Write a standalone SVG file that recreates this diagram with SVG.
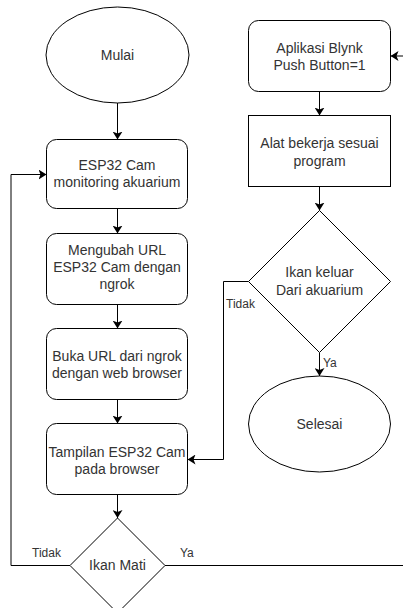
<svg xmlns="http://www.w3.org/2000/svg" width="403" height="608" viewBox="0 0 403 608">
<style>
.s{fill:#fff;stroke:#000;stroke-width:1}
.t{font-family:"Liberation Sans",Arial,sans-serif;font-size:14px;fill:#333;text-anchor:middle}
.l{font-family:"Liberation Sans",Arial,sans-serif;font-size:12px;fill:#333}
.c{fill:none;stroke:#000;stroke-width:1;marker-end:url(#a)}
</style>
<defs>
<marker id="a" viewBox="0 0 8 10" markerWidth="8" markerHeight="10" refX="8" refY="5" orient="auto" markerUnits="userSpaceOnUse">
<path d="M0,0 L8,5 L0,10 L2,5 Z" fill="#000"/>
</marker>
</defs>
<rect width="403" height="608" fill="#fff"/>
<g id="connectors">
<path class="c" d="M117.5,103 V139.5"/>
<path class="c" d="M117.5,208.5 V233.5"/>
<path class="c" d="M117.5,304.5 V328.5"/>
<path class="c" d="M117.5,399.5 V423.5"/>
<path class="c" d="M117.5,494.5 V518"/>
<path class="c" d="M70,565.5 H11 V174.5 H46.5"/>
<path class="c" d="M165,565.5 H404 V56 H390.5"/>
<path class="c" d="M319.5,91.5 V115.5"/>
<path class="c" d="M319.5,186.5 V210.5"/>
<path class="c" d="M248.5,281.5 H223.5 V459.5 H187.5"/>
<path class="c" d="M319.5,352.5 V376"/>
<text class="l" x="32" y="557">Tidak</text>
<text class="l" x="180" y="557">Ya</text>
<text class="l" x="226" y="308">Tidak</text>
<text class="l" x="323" y="367">Ya</text>
</g>
<g id="mulai">
<ellipse class="s" cx="117.5" cy="55" rx="71.5" ry="48"/>
<text class="t" x="117.5" y="60">Mulai</text>
</g>
<g id="esp32cam">
<rect class="s" x="46.5" y="139.5" width="141" height="69" rx="10"/>
<text class="t" x="117" y="170">ESP32 Cam</text>
<text class="t" x="117" y="187">monitoring akuarium</text>
</g>
<g id="mengubah">
<rect class="s" x="46.5" y="233.5" width="141" height="71" rx="10"/>
<text class="t" x="117" y="255">Mengubah URL</text>
<text class="t" x="117" y="272">ESP32 Cam dengan</text>
<text class="t" x="117" y="289">ngrok</text>
</g>
<g id="buka">
<rect class="s" x="46.5" y="328.5" width="141" height="71" rx="10"/>
<text class="t" x="117" y="361">Buka URL dari ngrok</text>
<text class="t" x="117" y="378">dengan web browser</text>
</g>
<g id="tampilan">
<rect class="s" x="46.5" y="423.5" width="141" height="71" rx="10"/>
<text class="t" x="117" y="457">Tampilan ESP32 Cam</text>
<text class="t" x="117" y="474">pada browser</text>
</g>
<g id="ikanmati">
<polygon class="s" points="117.5,518 165,565.5 117.5,613 70,565.5"/>
<text class="t" x="117.5" y="570">Ikan Mati</text>
</g>
<g id="blynk">
<rect class="s" x="248.5" y="20.5" width="142" height="71" rx="10"/>
<text class="t" x="319.5" y="53">Aplikasi Blynk</text>
<text class="t" x="319.5" y="70">Push Button=1</text>
</g>
<g id="alat">
<rect class="s" x="248.5" y="115.5" width="142" height="71"/>
<text class="t" x="319.5" y="148">Alat bekerja sesuai</text>
<text class="t" x="319.5" y="166">program</text>
</g>
<g id="ikankeluar">
<polygon class="s" points="319.5,210.5 390.5,281.5 319.5,352.5 248.5,281.5"/>
<text class="t" x="319.5" y="277">Ikan keluar</text>
<text class="t" x="319.5" y="295">Dari akuarium</text>
</g>
<g id="selesai">
<ellipse class="s" cx="319.5" cy="424" rx="71" ry="48"/>
<text class="t" x="319.5" y="429">Selesai</text>
</g>
</svg>
